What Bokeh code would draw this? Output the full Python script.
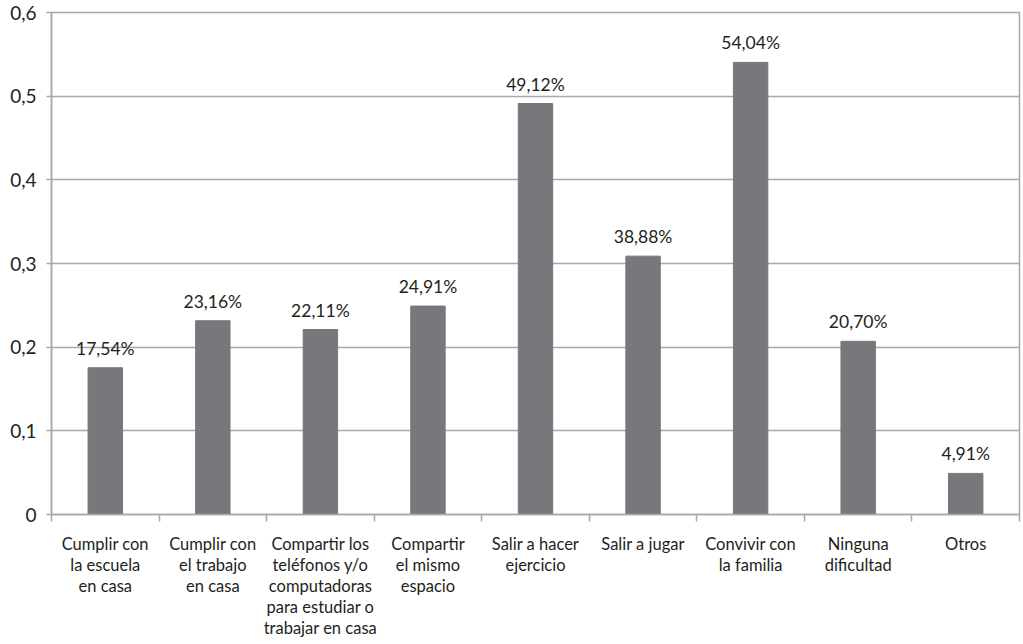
from bokeh.plotting import figure
from bokeh.models import ColumnDataSource, Range1d, FixedTicker, LinearAxis, CustomJSTickFormatter
from bokeh.core.properties import value
from bokeh.embed import file_html
from bokeh.resources import INLINE

categories = [
    "Cumplir con\nla escuela\nen casa",
    "Cumplir con\nel trabajo\nen casa",
    "Compartir los\nteléfonos y/o\ncomputadoras\npara estudiar o\ntrabajar en casa",
    "Compartir\nel mismo\nespacio",
    "Salir a hacer\nejercicio",
    "Salir a jugar",
    "Convivir con\nla familia",
    "Ninguna\ndificultad",
    "Otros",
]
values = [0.1754, 0.2316, 0.2211, 0.2491, 0.4912, 0.3088, 0.5404, 0.2070, 0.0491]
labels = ["17,54%", "23,16%", "22,11%", "24,91%", "49,12%", "38,88%", "54,04%", "20,70%", "4,91%"]

FONT = "Lato"
TEXT = "#231f20"
GRID = "#a7a9ac"
BAR = "#77787b"

xs = [i + 0.5 for i in range(len(categories))]
bounds = list(range(len(categories) + 1))
src = ColumnDataSource(dict(x=xs, top=values, label=labels))

p = figure(frame_width=968, frame_height=502, output_backend="svg", toolbar_location=None,
           x_range=Range1d(0, len(categories)), y_range=Range1d(0, 0.6),
           min_border_left=51, min_border_right=4, min_border_top=12, min_border_bottom=0,
           x_axis_location=None, y_axis_location=None)
p.background_fill_color = "white"
p.border_fill_color = "white"
p.outline_line_color = GRID
p.outline_line_width = 1.5

p.vbar(x="x", top="top", width=0.32, source=src, color=BAR)
p.text(x="x", y="top", text="label", source=src, text_align="center", text_baseline="bottom",
       y_offset=-9, text_font=value(FONT), text_font_size="17.5px", text_color=TEXT)

# y axis
yax = LinearAxis(ticker=FixedTicker(ticks=[0, 0.1, 0.2, 0.3, 0.4, 0.5, 0.6]))
yax.formatter = CustomJSTickFormatter(code="return tick < 1e-9 ? '0' : tick.toFixed(1).replace('.', ',');")
yax.axis_line_color = GRID
yax.axis_line_width = 1.5
yax.major_tick_line_color = GRID
yax.major_tick_line_width = 1.5
yax.major_tick_in = 0
yax.major_tick_out = 5
yax.minor_tick_line_color = None
yax.major_label_standoff = 10
yax.major_label_text_font = FONT
yax.major_label_text_font_size = "19px"
yax.major_label_text_color = TEXT
p.add_layout(yax, "left")

# x axis: labels at category centres, tick marks (minor) at category boundaries
xax = LinearAxis(ticker=FixedTicker(ticks=xs, minor_ticks=bounds))
xax.major_label_overrides = {x: c for x, c in zip(xs, categories)}
xax.axis_line_color = GRID
xax.axis_line_width = 1.5
xax.major_tick_line_color = None
xax.major_tick_in = 0
xax.major_tick_out = 7
xax.minor_tick_line_color = GRID
xax.minor_tick_line_width = 1.5
xax.minor_tick_in = 0
xax.minor_tick_out = 7
xax.major_label_standoff = 12
xax.major_label_text_font = FONT
xax.major_label_text_font_size = "16.5px"
xax.major_label_text_color = TEXT
xax.major_label_text_line_height = 1.05
p.add_layout(xax, "below")

p.xgrid.visible = False
p.ygrid.ticker = FixedTicker(ticks=[0.1, 0.2, 0.3, 0.4, 0.5, 0.6])
p.ygrid.grid_line_color = GRID
p.ygrid.grid_line_width = 1.5

open("out.html", "w").write(file_html(p, INLINE))
